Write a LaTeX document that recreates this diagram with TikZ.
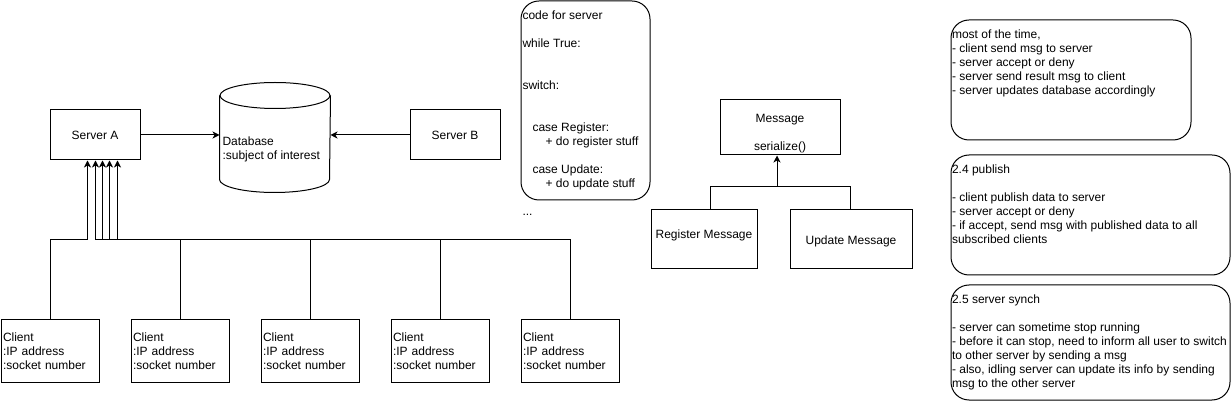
\documentclass[tikz,border=0pt]{standalone}
\usepackage{fontspec}
\setmainfont{Liberation Sans}
\usetikzlibrary{arrows.meta, shapes, positioning, calc}

\begin{document}
\begin{tikzpicture}[x=0.75pt,y=-0.75pt,>={Stealth[length=5.25pt,width=5.25pt,inset=1.5pt]},line width=0.75pt,
  every node/.style={font=\fontsize{9pt}{10.5pt}\selectfont},
  box/.style={draw,rectangle},
  roundbox/.style={draw,rectangle,rounded corners=13.5pt},
  txt/.style={inner sep=0pt,anchor=north west,align=left},
  client/.style={draw,rectangle,text width=70.5pt,inner sep=1.5pt,minimum height=47.25pt,align=left}]
  \useasboundingbox (0,0) rectangle (1231,402);
  % servers and database
  \node[box,minimum width=67.5pt,minimum height=37.5pt] (srvA) at (95,135) {Server A};
  \node[box,minimum width=67.5pt,minimum height=37.5pt] (srvB) at (455,135) {Server B};
  \node[minimum width=82.5pt,minimum height=81.75pt,inner sep=0pt] (db) at (275,137.5) {};
  \draw ($(db.north)+(0,13)$) ellipse[x radius=41.25pt,y radius=9.75pt];
  \draw ($(db.north west)+(0,13)$) -- ($(db.south west)+(0,-13)$)
    arc[start angle=180,end angle=360,x radius=41.25pt,y radius=9.75pt] -- ($(db.north east)+(0,13)$);
  \node[txt,anchor=west] (dbtext) at (222,149) {Database\\:subject of interest};
  \draw[->] (srvA.east) -- (srvA.east -| db.west);
  \draw[->] (srvB.west) -- (srvB.west -| db.east);
  % clients
  \foreach \i in {1,...,5}
    \node[client] (c\i) at ({50+130*(\i-1)},351.5) {Client\\:IP address\\:socket number};
  \coordinate (bus) at (0,240);
  \foreach \i/\d in {1/38,2/46,3/53,4/60,5/68}
    {\draw[->] (c\i.north) -- (c\i.north |- bus) -| ($(srvA.south west)+(\d,0)$);}
  % server code
  \node[roundbox,minimum width=96.75pt,minimum height=149.25pt] (code) at (585.5,100.5) {};
  \node[txt] (codetext) at (522,10) {code for server\\~\\while True:\\~\\~\\switch:\\~\\~\\
    \hspace*{7.5pt}case Register:\\\hspace*{17.25pt}+ do register stuff\\~\\
    \hspace*{7.5pt}case Update:\\\hspace*{17.25pt}+ do update stuff\\~\\...};
  % messages
  \node[box,minimum width=90pt,minimum height=41.25pt,
    label={[align=center,yshift=-4.5pt]center:Message\\[10.5pt]serialize()}] (msg) at (780,127.5) {};
  \node[box,minimum width=79.5pt,minimum height=44.25pt,
    label={[yshift=3pt]center:Register Message}] (reg) at (704,239.5) {};
  \node[box,minimum width=91.5pt,minimum height=44.25pt,
    label={[yshift=-1.5pt]center:Update Message}] (upd) at (851,239.5) {};
  \coordinate (split) at (777,187);
  \draw[->] ($(reg.north)+(6,0)$) |- (split) -- (msg.south -| split);
  \draw ($(upd.north)+(-1,0)$) |- (split);
  % notes
  \node[roundbox,minimum width=180pt,minimum height=90pt] (note1) at (1071,80) {};
  \node[txt] (note1text) at ($(note1.north west)+(1,10)$) {most of the time,\\- client send msg to server\\
    - server accept or deny\\- server send result msg to client\\- server updates database accordingly};
  \node[roundbox,minimum width=209.25pt,minimum height=90pt] (note2) at (1090.5,215) {};
  \node[txt] (note2text) at ($(note2.north west)+(1,10)$) {2.4 publish\\~\\- client publish data to server\\
    - server accept or deny\\- if accept, send msg with published data to all\\subscribed clients};
  \node[roundbox,minimum width=209.25pt,minimum height=86.25pt] (note3) at (1090.5,342.5) {};
  \node[txt] (note3text) at ($(note3.north west)+(1,10)$) {2.5 server synch\\~\\- server can sometime stop running\\
    - before it can stop, need to inform all user to switch\\to other server by sending a msg\\
    - also, idling server can update its info by sending\\msg to the other server};
\end{tikzpicture}
\end{document}
